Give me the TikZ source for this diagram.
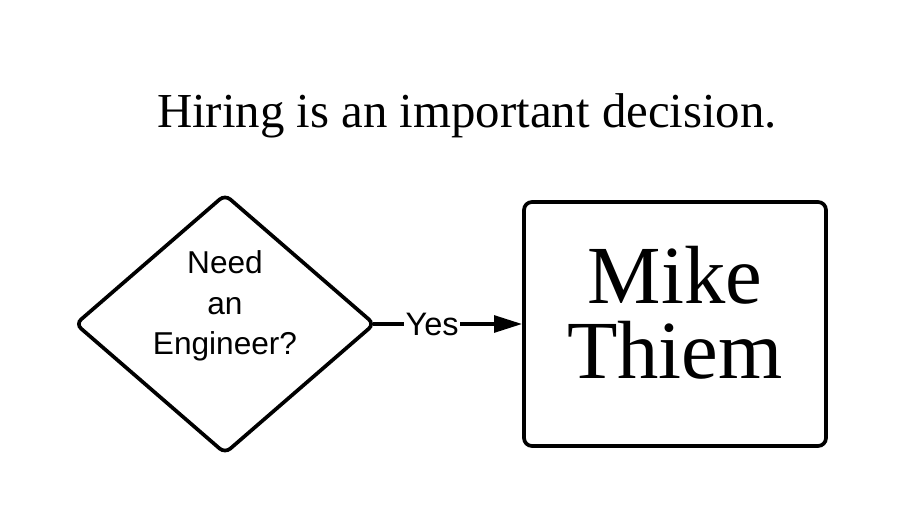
\documentclass[tikz,border=0pt]{standalone}
\usepackage{fontspec}
\setmainfont{Liberation Serif}
\newfontfamily\sansfont{Liberation Sans}
\usetikzlibrary{shapes.geometric,arrows.meta}

\begin{document}
\begin{tikzpicture}[x=0.02cm,y=-0.02cm,line width=2.1pt,
		question/.style={diamond,draw,rounded corners=4pt,inner sep=0pt,
			minimum width=6.0cm,minimum height=5.2cm},
		answer/.style={rectangle,draw,rounded corners=4.5pt,inner sep=0pt,
			minimum width=6.04cm,minimum height=4.88cm},
		qtext/.style={align=center,inner sep=0pt,
			font=\sansfont\fontsize{18}{23.2}\selectfont},
		atext/.style={align=center,inner sep=0pt,
			font=\fontsize{47}{42.5}\selectfont},
		yes/.style={fill=white,inner sep=1pt,font=\sansfont\fontsize{18.5}{21}\selectfont}]
	\useasboundingbox (0,0) rectangle (900,531);
	
	% title
	\node[anchor=base,font=\fontsize{27.8}{31}\selectfont] (title) at (467,127)
		{Hiring is an important decision.};
	
	% decision and answer
	\node[question] (q) at (225,324) {};
	\node[qtext] (qt) at (225,306) {Need\\an\\Engineer?};
	\node[answer] (a) at (675,324) {};
	\node[atext] (at) at (675,313) {Mike\\Thiem};
	
	\draw[-{Triangle[length=16pt,width=9.5pt]},shorten <=-2pt]
		(q.east) -- node[yes,pos=0.38]{Yes} (a.west);
\end{tikzpicture}
\end{document}
